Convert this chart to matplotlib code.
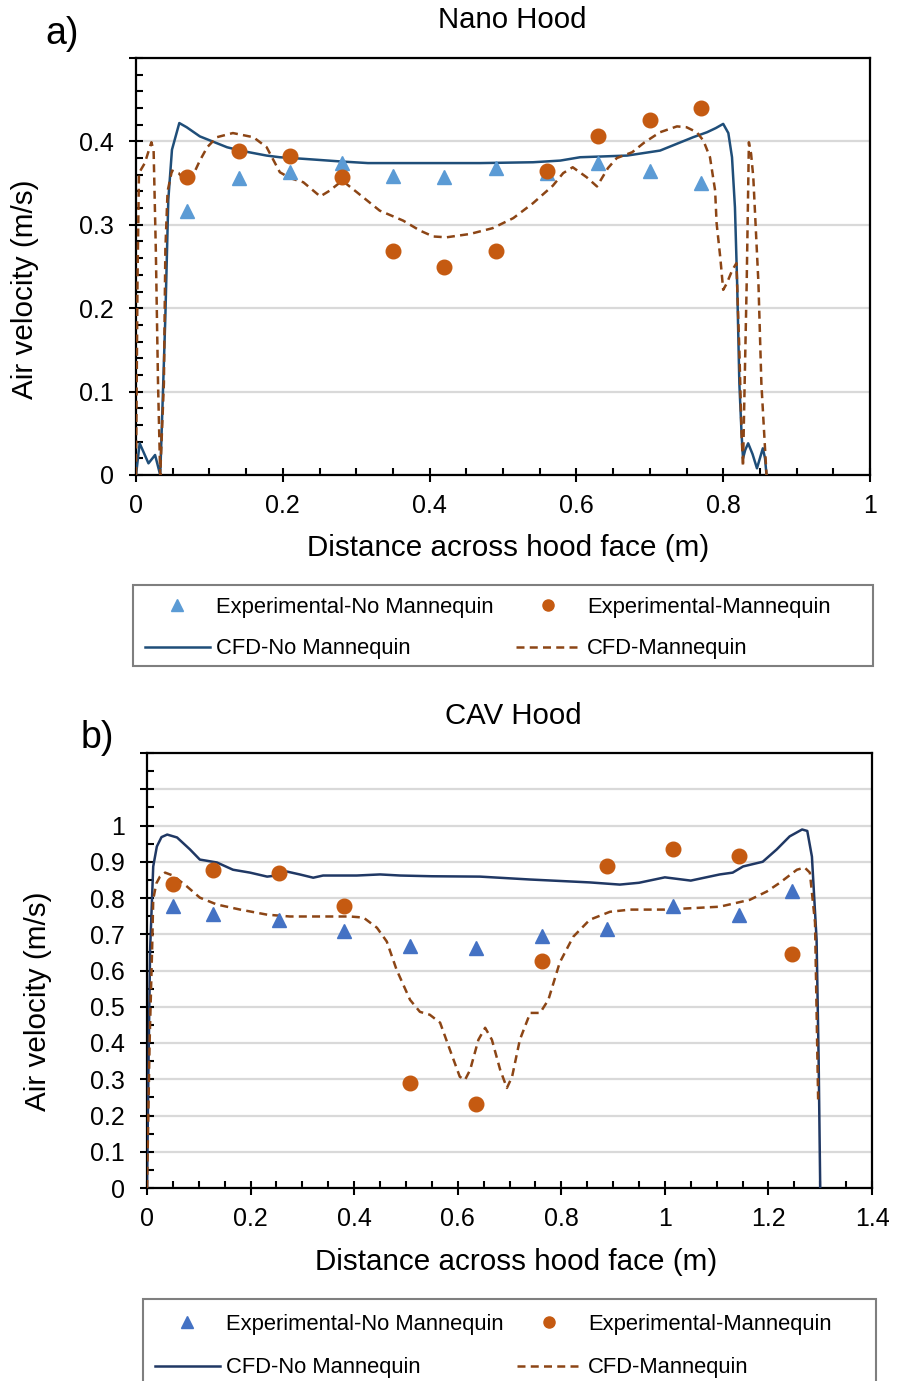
import matplotlib
matplotlib.use("Agg")
import matplotlib.pyplot as plt
from matplotlib.ticker import MultipleLocator, FuncFormatter
from matplotlib.lines import Line2D
from matplotlib.patches import Rectangle

plt.rcParams['font.family'] = ['Liberation Sans', 'DejaVu Sans']

# ---- a) Nano Hood ----
nano_exp_x = [0.07, 0.14, 0.21, 0.28, 0.35, 0.42, 0.49, 0.56, 0.63, 0.70, 0.77]
nano_exp_nomq = [0.317, 0.356, 0.363, 0.374, 0.359, 0.357, 0.368, 0.362, 0.374, 0.365, 0.350]
nano_exp_mq = [0.357, 0.389, 0.382, 0.357, 0.269, 0.250, 0.269, 0.364, 0.406, 0.426, 0.440]

nano_cfd_nomq_x = [0, 0.005, 0.017, 0.026, 0.033, 0.036, 0.040, 0.044, 0.049, 0.059, 0.069,
                   0.087, 0.124, 0.142, 0.178, 0.196, 0.23, 0.278, 0.316, 0.35, 0.40, 0.469,
                   0.541, 0.578, 0.605, 0.669, 0.714, 0.759, 0.778, 0.79, 0.80, 0.807, 0.812,
                   0.816, 0.819, 0.822, 0.825, 0.827, 0.83, 0.834, 0.84, 0.846, 0.85, 0.854,
                   0.857, 0.859]
nano_cfd_nomq_y = [0, 0.038, 0.014, 0.024, 0, 0.08, 0.19, 0.33, 0.39, 0.422, 0.417,
                   0.406, 0.393, 0.389, 0.383, 0.381, 0.379, 0.376, 0.374, 0.374, 0.374, 0.374,
                   0.375, 0.377, 0.381, 0.383, 0.389, 0.405, 0.411, 0.416, 0.421, 0.41, 0.381,
                   0.321, 0.23, 0.11, 0.05, 0.02, 0.03, 0.038, 0.025, 0.008, 0.02, 0.032,
                   0.02, 0]

nano_cfd_mq_x = [0, 0.002, 0.004, 0.012, 0.021, 0.024, 0.027, 0.030, 0.033, 0.038, 0.040,
                 0.043, 0.049, 0.058, 0.068, 0.078, 0.087, 0.097, 0.11, 0.132, 0.16, 0.178,
                 0.196, 0.21, 0.228, 0.251, 0.264, 0.281, 0.301, 0.332, 0.364, 0.387, 0.405,
                 0.423, 0.455, 0.486, 0.514, 0.541, 0.568, 0.582, 0.595, 0.614, 0.628, 0.643,
                 0.655, 0.676, 0.693, 0.714, 0.737, 0.75, 0.764, 0.773, 0.782, 0.789, 0.791,
                 0.796, 0.80, 0.805, 0.812, 0.818, 0.822, 0.825, 0.827, 0.829, 0.832, 0.835,
                 0.838, 0.841, 0.848, 0.852, 0.859]
nano_cfd_mq_y = [0, 0.23, 0.362, 0.374, 0.399, 0.389, 0.27, 0.11, 0, 0.11, 0.27,
                 0.34, 0.365, 0.362, 0.352, 0.36, 0.377, 0.393, 0.405, 0.41, 0.405, 0.393,
                 0.363, 0.356, 0.351, 0.334, 0.341, 0.353, 0.339, 0.317, 0.305, 0.293, 0.286,
                 0.285, 0.289, 0.296, 0.308, 0.326, 0.347, 0.362, 0.369, 0.357, 0.346, 0.368,
                 0.380, 0.387, 0.399, 0.411, 0.418, 0.417, 0.411, 0.401, 0.381, 0.341, 0.302,
                 0.261, 0.222, 0.23, 0.245, 0.254, 0.15, 0.05, 0.01, 0.1, 0.23, 0.399,
                 0.385, 0.357, 0.23, 0.11, 0]

# ---- b) CAV Hood ----
cav_exp_x = [0.051, 0.127, 0.254, 0.381, 0.508, 0.635, 0.762, 0.889, 1.016, 1.143, 1.245]
cav_exp_nomq = [0.779, 0.757, 0.740, 0.710, 0.668, 0.663, 0.696, 0.715, 0.779, 0.754, 0.820]
cav_exp_mq = [0.840, 0.876, 0.870, 0.779, 0.290, 0.232, 0.627, 0.889, 0.936, 0.917, 0.646]

cav_cfd_nomq_x = [0, 0.003, 0.006, 0.012, 0.019, 0.028, 0.039, 0.058, 0.083, 0.102, 0.135,
                  0.166, 0.199, 0.232, 0.25, 0.27, 0.295, 0.321, 0.34, 0.405, 0.45, 0.489,
                  0.55, 0.643, 0.74, 0.855, 0.913, 0.95, 1.0, 1.05, 1.106, 1.131, 1.151,
                  1.189, 1.216, 1.241, 1.265, 1.275, 1.284, 1.293, 1.297, 1.30]
cav_cfd_nomq_y = [0, 0.35, 0.657, 0.887, 0.942, 0.968, 0.975, 0.967, 0.934, 0.906, 0.898,
                  0.878, 0.870, 0.859, 0.862, 0.873, 0.865, 0.856, 0.862, 0.862, 0.865, 0.862,
                  0.860, 0.859, 0.851, 0.843, 0.837, 0.842, 0.857, 0.848, 0.865, 0.870, 0.887,
                  0.900, 0.934, 0.970, 0.989, 0.985, 0.914, 0.685, 0.35, 0]

cav_cfd_mq_x = [0, 0.005, 0.01, 0.012, 0.018, 0.025, 0.035, 0.05, 0.077, 0.102, 0.135,
                0.18, 0.232, 0.276, 0.34, 0.392, 0.418, 0.444, 0.463, 0.482, 0.508, 0.527,
                0.546, 0.566, 0.585, 0.604, 0.614, 0.624, 0.64, 0.653, 0.666, 0.682, 0.695,
                0.705, 0.72, 0.74, 0.759, 0.775, 0.797, 0.823, 0.855, 0.894, 0.933, 1.0,
                1.106, 1.164, 1.197, 1.222, 1.255, 1.27, 1.28, 1.29, 1.296]
cav_cfd_mq_y = [0, 0.4, 0.666, 0.796, 0.84, 0.859, 0.870, 0.862, 0.832, 0.801, 0.782,
                0.768, 0.754, 0.749, 0.749, 0.749, 0.746, 0.718, 0.680, 0.602, 0.519, 0.486,
                0.478, 0.456, 0.381, 0.307, 0.298, 0.326, 0.409, 0.442, 0.409, 0.326, 0.276,
                0.307, 0.409, 0.483, 0.483, 0.519, 0.622, 0.693, 0.740, 0.762, 0.768, 0.768,
                0.776, 0.795, 0.818, 0.842, 0.878, 0.884, 0.870, 0.732, 0.243]

labels = ['Experimental-No Mannequin', 'CFD-No Mannequin',
          'Experimental-Mannequin', 'CFD-Mannequin']

orange = '#C55A11'
brown = '#8C4515'
grid_c = '#D9D9D9'
DASH = (3.2, 2.1)
LW = 1.8

W, H = 902.0, 1381.0


def fmt(v, pos):
    return '%g' % round(v, 3)


def style_axes(ax, xmaj, xmin, ymaj, ymin):
    for s in ax.spines.values():
        s.set_linewidth(1.6)
        s.set_color('black')
    ax.xaxis.set_major_locator(MultipleLocator(xmaj))
    ax.xaxis.set_minor_locator(MultipleLocator(xmin))
    ax.yaxis.set_major_locator(MultipleLocator(ymaj))
    ax.yaxis.set_minor_locator(MultipleLocator(ymin))
    ax.tick_params(which='major', direction='inout', length=10, width=1.5, labelsize=18)
    ax.tick_params(axis='x', which='major', pad=9)
    ax.tick_params(axis='y', which='major', pad=11)
    ax.tick_params(which='minor', direction='in', length=5, width=1.5)
    ax.grid(axis='y', which='major', color=grid_c, lw=1.6)
    ax.set_axisbelow(True)


def draw(ax, ex, e_nomq, e_mq, sx, sy, dx, dy, tri_c, line_c):
    ax.plot(sx, sy, color=line_c, lw=LW, zorder=3)
    ax.plot(dx, dy, color=brown, lw=LW, dashes=DASH, zorder=3)
    ax.plot(ex, e_nomq, '^', color=tri_c, ms=10.5, ls='none', zorder=4)
    ax.plot(ex, e_mq, 'o', color=orange, ms=10.5, ls='none', zorder=4)
    handles = [Line2D([], [], marker='^', color=tri_c, ms=8, ls='none'),
               Line2D([], [], color=line_c, lw=LW),
               Line2D([], [], marker='o', color=orange, ms=8, ls='none'),
               Line2D([], [], color=brown, lw=LW, dashes=DASH)]
    return handles


def legend_box(fig, handles, x0, y0, x1, y1, hx, hy, rowsep, colsep):
    fig.patches.append(Rectangle((x0 / W, 1 - y1 / H), (x1 - x0) / W, (y1 - y0) / H,
                                 transform=fig.transFigure, fill=False,
                                 edgecolor='#7F7F7F', lw=1.5))
    fig.legend(handles, labels, ncol=2, loc='upper left',
               bbox_to_anchor=(hx / W, 1 - hy / H), fontsize=15.8,
               handlelength=2.95, handletextpad=0.3, columnspacing=colsep,
               labelspacing=rowsep, frameon=False, borderpad=0, borderaxespad=0)


fig = plt.figure(figsize=(9.02, 13.81), dpi=100)

# panel a
ax1 = fig.add_axes([136 / W, 1 - 475 / H, 734 / W, 417 / H])
h1 = draw(ax1, nano_exp_x, nano_exp_nomq, nano_exp_mq, nano_cfd_nomq_x, nano_cfd_nomq_y,
          nano_cfd_mq_x, nano_cfd_mq_y, '#5B9BD5', '#1F4E79')
ax1.set_xlim(0, 1)
ax1.set_ylim(0, 0.5)
style_axes(ax1, 0.2, 0.05, 0.1, 0.02)
ax1.xaxis.set_major_formatter(FuncFormatter(fmt))
ax1.yaxis.set_major_formatter(FuncFormatter(lambda v, p: '' if v > 0.45 else fmt(v, p)))
fig.text(508 / W, 1 - 548 / H, 'Distance across hood face (m)', fontsize=21.3,
         ha='center', va='center')
fig.text(25 / W, 1 - 289 / H, 'Air velocity (m/s)', fontsize=21.3, rotation=90,
         ha='center', va='center')
fig.text(512 / W, 1 - 20 / H, 'Nano Hood', fontsize=21.2, ha='center', va='center')
fig.text(62 / W, 1 - 34 / H, 'a)', fontsize=27, ha='center', va='center')
legend_box(fig, h1, 133, 585, 873, 666, 145, 597, 0.93, 1.0)

# panel b
ax2 = fig.add_axes([147 / W, 1 - 1188 / H, 725 / W, 435 / H])
h2 = draw(ax2, cav_exp_x, cav_exp_nomq, cav_exp_mq, cav_cfd_nomq_x, cav_cfd_nomq_y,
          cav_cfd_mq_x, cav_cfd_mq_y, '#4472C4', '#203864')
ax2.set_xlim(0, 1.4)
ax2.set_ylim(0, 1.2)
style_axes(ax2, 0.2, 0.05, 0.1, 0.05)
ax2.xaxis.set_major_formatter(FuncFormatter(fmt))
ax2.yaxis.set_major_formatter(FuncFormatter(lambda v, p: '' if v > 1.01 else fmt(v, p)))
fig.text(516 / W, 1 - 1262 / H, 'Distance across hood face (m)', fontsize=21.3,
         ha='center', va='center')
fig.text(38 / W, 1 - 1001 / H, 'Air velocity (m/s)', fontsize=21.3, rotation=90,
         ha='center', va='center')
fig.text(513 / W, 1 - 716 / H, 'CAV Hood', fontsize=21.2, ha='center', va='center')
fig.text(97 / W, 1 - 738 / H, 'b)', fontsize=27, ha='center', va='center')
legend_box(fig, h2, 143, 1299, 876, 1395, 155, 1314, 1.02, 0.58)

fig.savefig('out.png', dpi=100)
